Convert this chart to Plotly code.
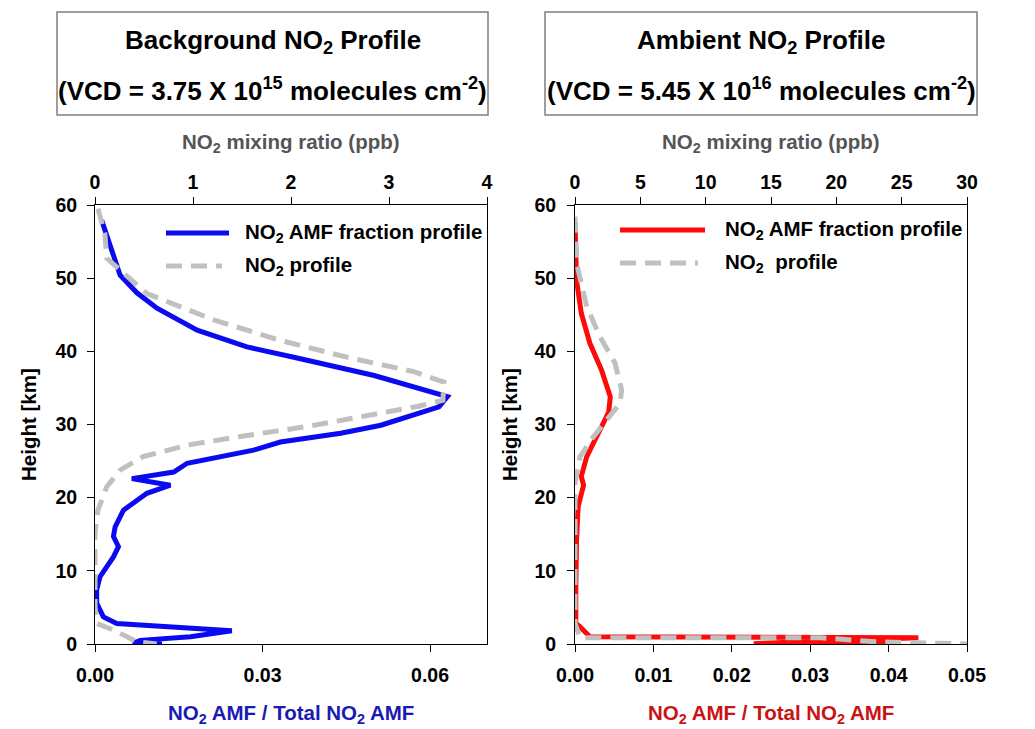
import plotly.graph_objects as go

W, H = 1035, 729

# ---------------- data ----------------
# Background profile (left panel)
bg_amf_height = [57.9, 54.0, 50.4, 48.0, 45.9, 42.9, 40.6, 39.2, 36.7, 33.8, 32.4, 29.9, 28.8,
                 27.6, 26.5, 24.7, 23.5, 22.6, 21.7, 20.6, 18.3, 16.0, 14.7, 13.3, 11.9, 9.2,
                 7.4, 5.6, 3.7, 2.8, 2.1, 1.8, 1.0, 0.5, 0.1, 0.0]
bg_amf_frac = [0.0012, 0.0028, 0.0045, 0.0075, 0.0111, 0.0183, 0.0272, 0.0356, 0.0500, 0.0631,
               0.0616, 0.0512, 0.0440, 0.0332, 0.0284, 0.0165, 0.0141, 0.0066, 0.0135, 0.0093,
               0.0051, 0.0036, 0.0033, 0.0042, 0.0033, 0.0009, 0.0003, 0.0003, 0.0015, 0.0039,
               0.0171, 0.0245, 0.0171, 0.0081, 0.0068, 0.0120]

bg_no2_height = [59.5, 56.1, 52.7, 51.1, 47.9, 44.3, 41.5, 39.2, 37.2, 35.8, 33.3, 32.5, 31.2,
                 29.8, 28.4, 27.2, 25.6, 23.8, 21.5, 18.3, 15.1, 10.6, 5.1, 2.8, 1.9, 0.3, 0.0]
bg_no2_ppb = [0.03, 0.10, 0.12, 0.26, 0.53, 1.21, 1.89, 2.57, 3.26, 3.56, 3.55, 3.30, 2.80,
              2.20, 1.50, 0.95, 0.49, 0.26, 0.12, 0.03, 0.0, 0.0, 0.0, 0.02, 0.19, 0.43, 0.63]

# Ambient profile (right panel)
amb_amf_height = [57.7, 52.9, 49.7, 45.2, 41.1, 37.4, 33.8, 31.7, 28.3, 25.6, 22.9, 21.7, 18.8,
                  14.2, 7.4, 2.8, 2.4, 1.5, 1.0, 0.85, 0.05, 0.0]
amb_amf_frac = [0.0, 0.0001, 0.0002, 0.0008, 0.0019, 0.0034, 0.0045, 0.0043, 0.0028, 0.0015,
                0.0008, 0.0011, 0.0004, 0.0002, 0.0001, 0.0001, 0.0006, 0.0015, 0.0019, 0.0438,
                0.0228, 0.0400]

amb_no2_height = [58.4, 52.0, 46.1, 42.0, 38.4, 34.7, 32.9, 31.1, 28.3, 25.6, 22.0, 16.5, 7.4,
                  2.8, 1.5, 0.85, 0.85, 0.3, 0.0]
amb_no2_ppb = [0.0, 0.13, 0.9, 1.91, 3.06, 3.57, 3.44, 2.68, 1.40, 0.38, 0.0, 0.0, 0.0,
               0.0, 0.26, 0.38, 18.8, 23.0, 30.0]

height_ticks = [0, 10, 20, 30, 40, 50, 60]
bg_amf_ticks = [0.0, 0.03, 0.06]
bg_amf_ticktext = ["0.00", "0.03", "0.06"]
bg_ppb_ticks = [0, 1, 2, 3, 4]
amb_amf_ticks = [0.0, 0.01, 0.02, 0.03, 0.04, 0.05]
amb_amf_ticktext = ["0.00", "0.01", "0.02", "0.03", "0.04", "0.05"]
amb_ppb_ticks = [0, 5, 10, 15, 20, 25, 30]

titles_line1 = ["Background NO<sub>2</sub> Profile", "Ambient NO<sub>2</sub> Profile"]
titles_line2 = ["(VCD = 3.75 X 10<sup>15</sup> molecules cm<sup>-2</sup>)",
                "(VCD = 5.45 X 10<sup>16</sup> molecules cm<sup>-2</sup>)"]
legend_amf = "NO<sub>2</sub> AMF fraction profile"
legend_no2 = ["NO<sub>2</sub> profile", "NO<sub>2</sub>  profile"]

# ---------------- style ----------------
FONT = "Liberation Sans, Arial, sans-serif"
BLUE = "#0a0af0"
RED = "#ff0a0a"
GRAY = "#c0c0c0"
DASH = "16px,9px"


def px(x):
    return x / W


def py(y):
    return 1 - y / H


fig = go.Figure()

fig.add_trace(go.Scatter(x=bg_amf_frac, y=bg_amf_height, xaxis="x", yaxis="y", mode="lines",
                         line=dict(color=BLUE, width=5), showlegend=False))
fig.add_trace(go.Scatter(x=bg_no2_ppb, y=bg_no2_height, xaxis="x2", yaxis="y", mode="lines",
                         line=dict(color=GRAY, width=5, dash=DASH), showlegend=False))
fig.add_trace(go.Scatter(x=amb_amf_frac, y=amb_amf_height, xaxis="x3", yaxis="y2", mode="lines",
                         line=dict(color=RED, width=5), showlegend=False))
fig.add_trace(go.Scatter(x=amb_no2_ppb, y=amb_no2_height, xaxis="x4", yaxis="y2", mode="lines",
                         line=dict(color=GRAY, width=5, dash=DASH), showlegend=False))

tickfont = dict(family=FONT, size=19.5, color="black", weight="bold")
common = dict(showline=True, linecolor="black", linewidth=1, ticks="outside", ticklen=7,
              tickcolor="black", showgrid=False, zeroline=False, tickfont=tickfont,
              fixedrange=True, automargin=False)

dom_left = [px(95), px(487)]
dom_right = [px(575), px(967)]
dom_y = [py(644), py(205)]

fig.update_layout(
    width=W, height=H,
    margin=dict(l=0, r=0, t=0, b=0, autoexpand=False),
    paper_bgcolor="white", plot_bgcolor="white",
    font=dict(family=FONT),
    xaxis=dict(domain=dom_left, range=[0, 0.0702], anchor="y", side="bottom",
               tickvals=bg_amf_ticks, ticktext=bg_amf_ticktext, ticklabelstandoff=7, **common),
    xaxis2=dict(range=[0, 4], overlaying="x", anchor="y", side="top",
                tickvals=bg_ppb_ticks, **common),
    yaxis=dict(domain=dom_y, range=[0, 60], anchor="x", tickvals=height_ticks, mirror=True,
               ticklabelstandoff=6, **common),
    xaxis3=dict(domain=dom_right, range=[0, 0.05], anchor="y2", side="bottom",
                tickvals=amb_amf_ticks, ticktext=amb_amf_ticktext, ticklabelstandoff=7, **common),
    xaxis4=dict(range=[0, 30], overlaying="x3", anchor="y2", side="top",
                tickvals=amb_ppb_ticks, **common),
    yaxis2=dict(domain=dom_y, range=[0, 60], anchor="x3", tickvals=height_ticks, mirror=True,
                ticklabelstandoff=7, **common),
)

shapes = []
annotations = []

# title boxes
boxes = [(57, 488), (545, 977)]
for i, (x0, x1) in enumerate(boxes):
    shapes.append(dict(type="rect", xref="paper", yref="paper", x0=px(x0), x1=px(x1),
                       y0=py(115), y1=py(12), line=dict(color="#7f7f7f", width=1.5)))
    cx = px((x0 + x1) / 2)
    annotations.append(dict(xref="paper", yref="paper", x=cx, y=py(41), text=titles_line1[i],
                            showarrow=False, xanchor="center", yanchor="middle",
                            font=dict(family=FONT, size=26, color="black", weight="bold")))
    annotations.append(dict(xref="paper", yref="paper", x=cx, y=py(89), text=titles_line2[i],
                            showarrow=False, xanchor="center", yanchor="middle",
                            font=dict(family=FONT, size=26, color="black", weight="bold")))

# axis titles
centers = [(95 + 487) / 2, (575 + 967) / 2]
bottom_colors = ["#1a1ab4", "#c81414"]
for i, c in enumerate(centers):
    annotations.append(dict(xref="paper", yref="paper", x=px(c), y=py(143),
                            text="NO<sub>2</sub> mixing ratio (ppb)", showarrow=False,
                            xanchor="center", yanchor="middle",
                            font=dict(family=FONT, size=20.5, color="#555555", weight="bold")))
    annotations.append(dict(xref="paper", yref="paper", x=px(c), y=py(714),
                            text="NO<sub>2</sub> AMF / Total NO<sub>2</sub> AMF", showarrow=False,
                            xanchor="center", yanchor="middle",
                            font=dict(family=FONT, size=20.5, color=bottom_colors[i], weight="bold")))
for xh in [28, 509]:
    annotations.append(dict(xref="paper", yref="paper", x=px(xh), y=py(425), text="Height [km]",
                            showarrow=False, textangle=-90, xanchor="center", yanchor="middle",
                            font=dict(family=FONT, size=20.5, color="black", weight="bold")))

# legends (drawn as keys + text)
legend_specs = [
    dict(c1=BLUE, x0=166, x1=229, y1=233, x0g=166, x1g=222, y2=266, tx=243, t2=legend_no2[0]),
    dict(c1=RED, x0=620, x1=705, y1=230, x0g=620, x1g=698, y2=263, tx=723, t2=legend_no2[1]),
]
for s in legend_specs:
    shapes.append(dict(type="line", xref="paper", yref="paper", x0=px(s["x0"]), x1=px(s["x1"]),
                       y0=py(s["y1"]), y1=py(s["y1"]), line=dict(color=s["c1"], width=5)))
    shapes.append(dict(type="line", xref="paper", yref="paper", x0=px(s["x0g"]), x1=px(s["x1g"]),
                       y0=py(s["y2"]), y1=py(s["y2"]), line=dict(color=GRAY, width=5, dash=DASH)))
    annotations.append(dict(xref="paper", yref="paper", x=px(s["tx"]), y=py(s["y1"]),
                            text=legend_amf, showarrow=False, xanchor="left", yanchor="middle",
                            font=dict(family=FONT, size=20.5, color="black", weight="bold")))
    annotations.append(dict(xref="paper", yref="paper", x=px(s["tx"]), y=py(s["y2"]),
                            text=s["t2"], showarrow=False, xanchor="left", yanchor="middle",
                            font=dict(family=FONT, size=20.5, color="black", weight="bold")))

fig.update_layout(shapes=shapes, annotations=annotations)

fig.write_html("out.html", config={"displayModeBar": False},
               post_script="document.body.style.margin='0';")
